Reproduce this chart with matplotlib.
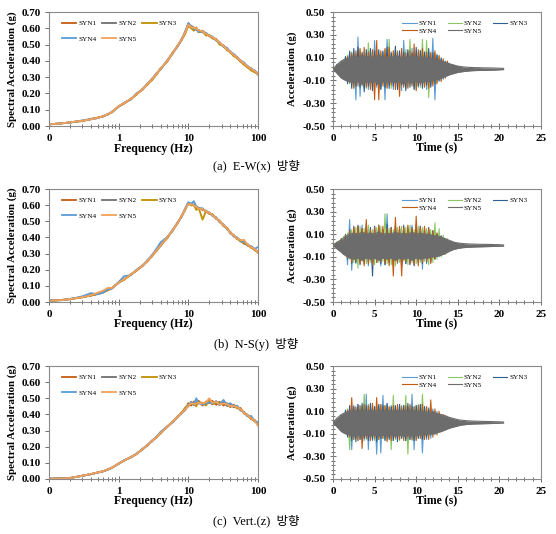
import matplotlib
matplotlib.use('Agg')
import numpy as np
import matplotlib.pyplot as plt
from matplotlib.ticker import LogLocator, NullFormatter, MultipleLocator, FormatStrFormatter, FixedLocator

plt.rcParams['font.family'] = ['Liberation Serif', 'Noto Sans CJK KR']

# ---------------- spectra (Hz -> g) ----------------
freq = [0.1, 0.15, 0.2, 0.3, 0.4, 0.5, 0.6, 0.7, 0.8, 1, 1.2, 1.5, 1.8, 2.2, 2.6, 3, 3.5, 4, 5, 6, 7, 8, 9, 10,
        11, 12, 13, 14, 16, 18, 20, 22, 25, 28, 32, 36, 40, 45, 50, 56, 63, 70, 80, 90, 100]

ew_sa1 = [0.010, 0.017, 0.021, 0.033, 0.041, 0.052, 0.058, 0.074, 0.083, 0.122, 0.138, 0.168, 0.192, 0.228, 0.255, 0.290, 0.316, 0.355, 0.396, 0.455, 0.486, 0.535, 0.570, 0.630,
          0.605, 0.596, 0.600, 0.578, 0.585, 0.560, 0.558, 0.540, 0.535, 0.505, 0.495, 0.465, 0.458, 0.430, 0.425, 0.395, 0.388, 0.360, 0.355, 0.330, 0.325]
ew_sa2 = [0.011, 0.015, 0.023, 0.031, 0.043, 0.049, 0.061, 0.070, 0.087, 0.118, 0.142, 0.163, 0.198, 0.222, 0.262, 0.282, 0.323, 0.347, 0.404, 0.446, 0.494, 0.526, 0.580, 0.620,
          0.615, 0.604, 0.590, 0.590, 0.575, 0.570, 0.550, 0.548, 0.525, 0.515, 0.486, 0.474, 0.450, 0.440, 0.415, 0.405, 0.380, 0.370, 0.345, 0.338, 0.315]
ew_sa3 = [0.009, 0.016, 0.022, 0.030, 0.044, 0.051, 0.059, 0.073, 0.084, 0.121, 0.139, 0.166, 0.194, 0.226, 0.258, 0.280, 0.318, 0.352, 0.398, 0.448, 0.492, 0.528, 0.565, 0.615,
          0.600, 0.585, 0.605, 0.575, 0.582, 0.555, 0.560, 0.538, 0.532, 0.500, 0.492, 0.468, 0.452, 0.428, 0.418, 0.398, 0.375, 0.362, 0.340, 0.330, 0.318]
ew_sa4 = [0.010, 0.017, 0.021, 0.034, 0.042, 0.048, 0.062, 0.071, 0.086, 0.119, 0.143, 0.164, 0.200, 0.224, 0.261, 0.288, 0.325, 0.348, 0.402, 0.452, 0.488, 0.532, 0.578, 0.632,
          0.612, 0.598, 0.592, 0.580, 0.578, 0.572, 0.552, 0.550, 0.528, 0.512, 0.488, 0.480, 0.455, 0.442, 0.422, 0.402, 0.390, 0.368, 0.352, 0.340, 0.322]
ew_sa5 = [0.011, 0.016, 0.023, 0.032, 0.041, 0.050, 0.061, 0.072, 0.085, 0.121, 0.141, 0.166, 0.196, 0.224, 0.259, 0.286, 0.321, 0.351, 0.401, 0.451, 0.491, 0.531, 0.574, 0.622,
          0.608, 0.602, 0.598, 0.588, 0.580, 0.566, 0.554, 0.546, 0.530, 0.512, 0.490, 0.472, 0.454, 0.436, 0.420, 0.402, 0.384, 0.366, 0.350, 0.336, 0.320]

ns_sa1 = [0.008, 0.013, 0.017, 0.031, 0.039, 0.051, 0.059, 0.076, 0.084, 0.122, 0.138, 0.172, 0.193, 0.228, 0.252, 0.288, 0.316, 0.354, 0.396, 0.450, 0.486, 0.534, 0.570, 0.615,
          0.600, 0.604, 0.586, 0.584, 0.570, 0.565, 0.545, 0.545, 0.515, 0.505, 0.470, 0.460, 0.425, 0.415, 0.390, 0.385, 0.360, 0.360, 0.335, 0.328, 0.305]
ns_sa2 = [0.009, 0.011, 0.019, 0.029, 0.041, 0.049, 0.061, 0.074, 0.086, 0.118, 0.142, 0.168, 0.197, 0.222, 0.258, 0.282, 0.324, 0.346, 0.404, 0.442, 0.494, 0.526, 0.580, 0.606,
          0.610, 0.596, 0.594, 0.576, 0.580, 0.556, 0.555, 0.535, 0.525, 0.495, 0.480, 0.450, 0.435, 0.405, 0.400, 0.375, 0.370, 0.350, 0.345, 0.320, 0.312]
ns_sa3 = [0.007, 0.012, 0.018, 0.030, 0.042, 0.050, 0.062, 0.073, 0.087, 0.121, 0.139, 0.171, 0.194, 0.226, 0.256, 0.284, 0.318, 0.352, 0.398, 0.446, 0.488, 0.532, 0.572, 0.612,
          0.598, 0.602, 0.570, 0.585, 0.510, 0.565, 0.548, 0.542, 0.518, 0.502, 0.472, 0.458, 0.428, 0.412, 0.392, 0.378, 0.368, 0.352, 0.338, 0.322, 0.308]
ns_sa4 = [0.008, 0.012, 0.018, 0.035, 0.055, 0.048, 0.058, 0.078, 0.083, 0.124, 0.160, 0.166, 0.200, 0.224, 0.260, 0.290, 0.330, 0.370, 0.402, 0.448, 0.492, 0.528, 0.578, 0.618,
          0.608, 0.625, 0.592, 0.582, 0.578, 0.562, 0.552, 0.538, 0.522, 0.498, 0.478, 0.452, 0.432, 0.408, 0.398, 0.382, 0.372, 0.358, 0.344, 0.330, 0.340]
ns_sa5 = [0.008, 0.012, 0.018, 0.030, 0.041, 0.058, 0.070, 0.088, 0.086, 0.120, 0.141, 0.170, 0.196, 0.225, 0.256, 0.286, 0.320, 0.351, 0.401, 0.446, 0.490, 0.530, 0.576, 0.608,
          0.604, 0.598, 0.590, 0.578, 0.576, 0.560, 0.552, 0.540, 0.520, 0.500, 0.476, 0.455, 0.430, 0.412, 0.395, 0.382, 0.385, 0.358, 0.340, 0.326, 0.308]

vt_sa1 = [0.002, 0.003, 0.005, 0.021, 0.029, 0.041, 0.047, 0.060, 0.068, 0.097, 0.113, 0.137, 0.153, 0.188, 0.207, 0.238, 0.257, 0.288, 0.322, 0.358, 0.382, 0.414, 0.426, 0.470,
          0.455, 0.480, 0.460, 0.485, 0.455, 0.480, 0.470, 0.485, 0.460, 0.478, 0.455, 0.470, 0.445, 0.460, 0.440, 0.440, 0.405, 0.400, 0.370, 0.365, 0.340]
vt_sa2 = [0.002, 0.004, 0.007, 0.019, 0.031, 0.039, 0.049, 0.057, 0.071, 0.093, 0.117, 0.133, 0.157, 0.182, 0.213, 0.232, 0.263, 0.282, 0.328, 0.352, 0.388, 0.406, 0.434, 0.450,
          0.478, 0.458, 0.476, 0.468, 0.472, 0.462, 0.488, 0.462, 0.482, 0.458, 0.476, 0.452, 0.460, 0.444, 0.450, 0.425, 0.415, 0.390, 0.380, 0.355, 0.350]
vt_sa3 = [0.001, 0.003, 0.006, 0.020, 0.030, 0.041, 0.048, 0.059, 0.069, 0.096, 0.114, 0.136, 0.156, 0.184, 0.211, 0.236, 0.259, 0.286, 0.324, 0.356, 0.384, 0.411, 0.442, 0.462,
          0.465, 0.472, 0.450, 0.478, 0.470, 0.455, 0.495, 0.465, 0.470, 0.470, 0.465, 0.465, 0.450, 0.455, 0.438, 0.435, 0.408, 0.398, 0.372, 0.362, 0.338]
vt_sa4 = [0.002, 0.003, 0.006, 0.020, 0.030, 0.040, 0.048, 0.058, 0.070, 0.095, 0.116, 0.134, 0.156, 0.186, 0.209, 0.236, 0.261, 0.292, 0.326, 0.354, 0.386, 0.408, 0.432, 0.458,
          0.475, 0.462, 0.500, 0.470, 0.462, 0.468, 0.475, 0.468, 0.480, 0.462, 0.490, 0.458, 0.470, 0.448, 0.455, 0.428, 0.412, 0.392, 0.390, 0.358, 0.350]
vt_sa5 = [0.002, 0.003, 0.006, 0.020, 0.031, 0.040, 0.049, 0.058, 0.070, 0.095, 0.115, 0.135, 0.155, 0.185, 0.210, 0.235, 0.260, 0.285, 0.325, 0.356, 0.385, 0.410, 0.430, 0.455,
          0.468, 0.466, 0.468, 0.472, 0.468, 0.475, 0.500, 0.472, 0.478, 0.462, 0.468, 0.462, 0.452, 0.452, 0.446, 0.432, 0.410, 0.396, 0.376, 0.360, 0.330]

# ---------------- time histories (g), peaks every 0.25 s ----------------
th_t = [0.0, 0.25, 0.5, 0.75, 1.0, 1.25, 1.5, 1.75, 2.0, 2.25, 2.5, 2.75, 3.0, 3.25, 3.5, 3.75, 4.0, 4.25, 4.5, 4.75,
        5.0, 5.25, 5.5, 5.75, 6.0, 6.25, 6.5, 6.75, 7.0, 7.25, 7.5, 7.75, 8.0, 8.25, 8.5, 8.75, 9.0, 9.25, 9.5, 9.75,
        10.0, 10.25, 10.5, 10.75, 11.0, 11.25, 11.5, 11.75, 12.0, 12.25, 12.5, 12.75, 13.0, 13.25, 13.5, 13.75, 14.0, 14.25, 14.5, 14.75, 15.0]

ew_a1 = [0, -0.01, 0.03, -0.05, 0.07, -0.08, 0.10, -0.12, 0.16, -0.14, 0.13, -0.27, 0.28, -0.24, 0.15, -0.17, 0.14, -0.18, 0.16, -0.15,
         0.25, -0.16, 0.13, -0.17, 0.16, -0.27, 0.26, -0.14, 0.15, -0.18, 0.17, -0.15, 0.14, -0.19, 0.25, -0.16, 0.15, -0.13, 0.18, -0.17,
         0.14, -0.16, 0.16, -0.14, 0.13, -0.18, 0.15, -0.15, 0.27, -0.27, 0.13, -0.11, 0.10, -0.09, 0.07, -0.06, 0.05, -0.04, 0.035, -0.03, 0.02]
ew_a2 = [0, 0.02, -0.03, 0.05, -0.06, 0.08, -0.10, 0.12, -0.13, 0.15, -0.16, 0.14, -0.12, 0.17, -0.15, 0.13, -0.17, 0.23, -0.17, 0.16,
         -0.14, 0.15, -0.18, 0.14, -0.13, 0.17, -0.16, 0.26, -0.17, 0.15, -0.13, 0.16, -0.18, 0.14, -0.15, 0.17, -0.16, 0.26, -0.14, 0.15,
         -0.18, 0.13, -0.16, 0.26, -0.15, 0.25, -0.25, 0.15, -0.13, 0.14, -0.12, 0.11, -0.10, 0.08, -0.07, 0.06, -0.05, 0.04, -0.03, 0.025, -0.02]
ew_a3 = [0, -0.02, 0.04, -0.05, 0.06, -0.09, 0.11, -0.13, 0.15, -0.17, 0.18, -0.15, 0.19, -0.16, 0.14, -0.20, 0.17, -0.15, 0.18, -0.19,
         0.16, -0.14, 0.17, -0.18, 0.15, -0.16, 0.19, -0.17, 0.14, -0.15, 0.20, -0.18, 0.16, -0.14, 0.15, -0.19, 0.17, -0.16, 0.14, -0.18,
         0.19, -0.15, 0.16, -0.17, 0.15, -0.14, 0.18, -0.16, 0.14, -0.13, 0.12, -0.10, 0.09, -0.08, 0.06, -0.05, 0.04, -0.035, 0.03, -0.02, 0.02]
ew_a4 = [0, 0.01, -0.03, 0.04, -0.06, 0.07, -0.09, 0.11, -0.12, 0.14, -0.17, 0.16, -0.15, 0.18, -0.14, 0.19, -0.16, 0.15, -0.18, 0.17,
         -0.27, 0.25, -0.27, 0.16, -0.15, 0.18, -0.17, 0.19, -0.14, 0.16, -0.18, 0.15, -0.24, 0.18, -0.16, 0.14, -0.17, 0.16, -0.15, 0.22,
         -0.19, 0.17, -0.14, 0.18, -0.16, 0.15, -0.17, 0.14, -0.15, 0.16, -0.13, 0.12, -0.11, 0.09, -0.08, 0.07, -0.05, 0.04, -0.035, 0.03, -0.02]

ns_a1 = [0, -0.01, 0.02, -0.04, 0.05, -0.07, 0.09, -0.17, 0.23, -0.22, 0.15, -0.16, 0.17, -0.14, 0.18, -0.15, 0.16, -0.18, 0.14, -0.16,
         0.17, -0.15, 0.16, -0.18, 0.14, -0.17, 0.28, -0.15, 0.16, -0.14, 0.18, -0.16, 0.15, -0.17, 0.14, -0.16, 0.17, -0.15, 0.18, -0.14,
         0.16, -0.15, 0.17, -0.21, 0.15, -0.16, 0.14, -0.15, 0.13, -0.12, 0.11, -0.10, 0.09, -0.07, 0.06, -0.05, 0.04, -0.03, 0.025, -0.02, 0.02]
ns_a2 = [0, 0.02, -0.03, 0.04, -0.06, 0.08, -0.09, 0.11, -0.12, 0.14, -0.15, 0.16, -0.20, 0.17, -0.14, 0.15, -0.16, 0.18, -0.15, 0.14,
         -0.17, 0.16, -0.15, 0.17, -0.14, 0.28, -0.16, 0.15, -0.17, 0.14, -0.18, 0.16, -0.15, 0.17, -0.14, 0.16, -0.17, 0.18, -0.15, 0.14,
         -0.16, 0.17, -0.15, 0.16, -0.14, 0.15, -0.17, 0.14, -0.15, 0.20, -0.12, 0.15, -0.10, 0.09, -0.08, 0.06, -0.05, 0.04, -0.03, 0.025, -0.02]
ns_a3 = [0, -0.01, 0.03, -0.04, 0.06, -0.08, 0.10, -0.12, 0.14, -0.16, 0.17, -0.15, 0.18, -0.17, 0.15, -0.16, 0.19, -0.14, 0.16, -0.27,
         0.17, -0.15, 0.18, -0.16, 0.14, -0.17, 0.19, -0.15, 0.16, -0.18, 0.17, -0.14, 0.15, -0.19, 0.18, -0.16, 0.14, -0.17, 0.16, -0.18,
         0.19, -0.15, 0.17, -0.16, 0.14, -0.15, 0.16, -0.14, 0.13, -0.12, 0.10, -0.09, 0.08, -0.06, 0.05, -0.04, 0.035, -0.03, 0.02, -0.02, 0.015]
ns_a4 = [0, -0.01, 0.02, -0.04, 0.06, -0.07, 0.09, -0.11, 0.13, -0.15, 0.16, -0.14, 0.17, -0.16, 0.15, -0.18, 0.23, -0.16, 0.14, -0.17,
         0.16, -0.15, 0.18, -0.14, 0.17, -0.16, 0.15, -0.18, 0.16, -0.27, 0.25, -0.15, 0.17, -0.27, 0.16, -0.14, 0.18, -0.16, 0.15, -0.17,
         0.26, -0.18, 0.16, -0.15, 0.17, -0.14, 0.15, -0.16, 0.13, -0.12, 0.11, -0.09, 0.08, -0.07, 0.05, -0.04, 0.035, -0.03, 0.02, -0.02, 0.015]

vt_a1 = [0, -0.01, 0.02, -0.03, 0.05, -0.07, 0.09, -0.11, 0.13, -0.24, 0.15, -0.14, 0.16, -0.15, 0.14, -0.16, 0.25, -0.24, 0.15, -0.16,
         0.14, -0.28, 0.15, -0.27, 0.24, -0.15, 0.16, -0.14, 0.15, -0.16, 0.14, -0.15, 0.16, -0.14, 0.15, -0.16, 0.14, -0.15, 0.25, -0.24,
         0.15, -0.14, 0.16, -0.27, 0.14, -0.15, 0.13, -0.14, 0.12, -0.11, 0.10, -0.08, 0.07, -0.06, 0.05, -0.04, 0.03, -0.025, 0.02, -0.02, 0.015]
vt_a2 = [0, 0.01, -0.03, 0.04, -0.06, 0.08, -0.10, 0.12, -0.24, 0.14, -0.15, 0.13, -0.16, 0.15, -0.14, 0.25, -0.15, 0.16, -0.14, 0.15,
         -0.16, 0.14, -0.15, 0.16, -0.14, 0.15, -0.16, 0.14, -0.24, 0.24, -0.15, 0.14, -0.16, 0.15, -0.14, 0.24, -0.28, 0.15, -0.16, 0.14,
         -0.15, 0.16, -0.14, 0.25, -0.15, 0.14, -0.13, 0.12, -0.11, 0.10, -0.09, 0.08, -0.07, 0.06, -0.05, 0.04, -0.03, 0.025, -0.02, 0.02, -0.015]
vt_a3 = [0, -0.02, 0.03, -0.05, 0.07, -0.09, 0.11, -0.13, 0.15, -0.16, 0.14, -0.17, 0.16, -0.15, 0.17, -0.14, 0.15, -0.16, 0.17, -0.15,
         0.14, -0.17, 0.16, -0.14, 0.15, -0.16, 0.17, -0.15, 0.14, -0.16, 0.15, -0.17, 0.16, -0.14, 0.15, -0.16, 0.17, -0.15, 0.14, -0.16,
         0.15, -0.14, 0.16, -0.15, 0.14, -0.13, 0.12, -0.11, 0.10, -0.09, 0.08, -0.07, 0.06, -0.05, 0.04, -0.035, 0.03, -0.02, 0.02, -0.015, 0.01]
vt_a4 = [0, 0.01, -0.02, 0.04, -0.05, 0.07, -0.09, 0.11, -0.13, 0.22, -0.15, 0.14, -0.16, 0.15, -0.23, 0.16, -0.14, 0.15, -0.16, 0.17,
         -0.14, 0.22, -0.15, 0.16, -0.14, 0.15, -0.17, 0.14, -0.16, 0.15, -0.14, 0.16, -0.15, 0.14, -0.16, 0.15, -0.14, 0.16, -0.15, 0.14,
         -0.16, 0.15, -0.14, 0.16, -0.15, 0.14, -0.15, 0.20, -0.13, 0.12, -0.11, 0.10, -0.08, 0.07, -0.06, 0.05, -0.04, 0.03, -0.025, 0.02, -0.015]

# SYN5 is drawn last and reads as a solid band: kept as its upper / lower envelope every 0.5 s
env_t = [0.0, 0.5, 1.0, 1.5, 2.0, 2.5, 3.0, 3.5, 4.0, 4.5, 5.0, 5.5, 6.0, 6.5, 7.0, 7.5, 8.0, 8.5, 9.0, 9.5, 10.0,
         10.5, 11.0, 11.5, 12.0, 12.5, 13.0, 13.5, 14.0, 14.5, 15.0, 15.5, 16.0, 16.5, 17.0, 17.5, 18.0, 18.5, 19.0, 19.5, 20.0, 20.5]
ew_up5 = [0.00, 0.04, 0.07, 0.09, 0.10, 0.12, 0.10, 0.12, 0.10, 0.11, 0.10, 0.12, 0.10, 0.11, 0.10, 0.12, 0.10, 0.11, 0.10, 0.12, 0.10,
          0.11, 0.10, 0.10, 0.09, 0.08, 0.07, 0.06, 0.045, 0.035, 0.025, 0.02, 0.016, 0.014, 0.012, 0.012, 0.010, 0.010, 0.009, 0.008, 0.007, 0.005]
ew_lo5 = [0.00, -0.04, -0.08, -0.10, -0.11, -0.12, -0.11, -0.13, -0.11, -0.12, -0.11, -0.13, -0.11, -0.12, -0.11, -0.12, -0.11, -0.13, -0.11, -0.12, -0.11,
          -0.12, -0.11, -0.11, -0.10, -0.09, -0.08, -0.065, -0.05, -0.04, -0.03, -0.024, -0.02, -0.016, -0.014, -0.013, -0.012, -0.011, -0.010, -0.009, -0.007, -0.005]
ns_up5 = [0.00, 0.03, 0.05, 0.08, 0.10, 0.11, 0.10, 0.12, 0.10, 0.11, 0.10, 0.12, 0.10, 0.11, 0.10, 0.12, 0.10, 0.11, 0.10, 0.12, 0.10,
          0.11, 0.10, 0.10, 0.09, 0.085, 0.075, 0.06, 0.045, 0.03, 0.022, 0.018, 0.015, 0.013, 0.012, 0.011, 0.010, 0.010, 0.009, 0.008, 0.007, 0.005]
ns_lo5 = [0.00, -0.03, -0.06, -0.09, -0.11, -0.12, -0.11, -0.13, -0.11, -0.12, -0.11, -0.13, -0.11, -0.12, -0.11, -0.13, -0.11, -0.12, -0.11, -0.13, -0.11,
          -0.12, -0.11, -0.11, -0.10, -0.095, -0.085, -0.07, -0.05, -0.035, -0.026, -0.02, -0.017, -0.015, -0.013, -0.012, -0.011, -0.010, -0.009, -0.008, -0.007, -0.005]
vt_up5 = [0.00, 0.04, 0.07, 0.09, 0.10, 0.11, 0.10, 0.11, 0.10, 0.11, 0.10, 0.11, 0.10, 0.11, 0.10, 0.11, 0.10, 0.11, 0.10, 0.11, 0.10,
          0.10, 0.10, 0.09, 0.09, 0.08, 0.07, 0.06, 0.045, 0.035, 0.025, 0.02, 0.016, 0.014, 0.012, 0.011, 0.010, 0.009, 0.008, 0.007, 0.006, 0.004]
vt_lo5 = [0.00, -0.04, -0.08, -0.10, -0.11, -0.12, -0.11, -0.12, -0.11, -0.12, -0.11, -0.12, -0.11, -0.12, -0.11, -0.12, -0.11, -0.12, -0.11, -0.12, -0.11,
          -0.11, -0.11, -0.10, -0.10, -0.09, -0.08, -0.065, -0.05, -0.04, -0.03, -0.022, -0.018, -0.015, -0.013, -0.012, -0.011, -0.010, -0.009, -0.008, -0.006, -0.004]

names = ['SYN1', 'SYN2', 'SYN3', 'SYN4', 'SYN5']
sa_colors = ['#C55A11', '#6F6F6F', '#BF9000', '#5B9BD5', '#F4A05A']
th_colors = ['#5B9BD5', '#8CC862', '#2E5F8E', '#C55A11', '#6C6C6C']
captions = ['(a)  E-W(x)  방향', '(b)  N-S(y)  방향', '(c)  Vert.(z)  방향']

W, H = 556, 534
rows = [(12, 126, 166), (189, 302, 344), (366, 479, 521)]
spine_c = '#8a8a8a'
legend_order = [0, 3, 1, 4, 2]   # legend fills by column; this gives SYN1 SYN2 SYN3 / SYN4 SYN5


def box(x0, x1, y0, y1):
    return [x0 / W, 1 - y1 / H, (x1 - x0) / W, (y1 - y0) / H]


def style(ax):
    for s in ax.spines.values():
        s.set_color(spine_c)
        s.set_linewidth(0.8)
    ax.tick_params(which='both', colors='#555555', width=0.6, labelcolor='black')
    for lb in ax.get_xticklabels() + ax.get_yticklabels():
        lb.set_fontsize(8)
        lb.set_fontweight('bold')


def ordered_legend(ax, **kw):
    h, l = ax.get_legend_handles_labels()
    ax.legend([h[i] for i in legend_order], [l[i] for i in legend_order], ncol=3, frameon=False,
              prop={'size': 5.2}, handlelength=2.0, handletextpad=0.25, **kw)


def draw_spectrum(ax, series):
    for name, vals, c in zip(names, series, sa_colors):
        ax.plot(freq, vals, color=c, lw=1.3, label=name)
    ax.set_xscale('log')
    ax.set_xlim(0.1, 100)
    ax.set_ylim(0, 0.7)
    ax.set_xticks([0.1, 1, 10, 100], ['0', '1', '10', '100'])
    ax.xaxis.set_minor_locator(LogLocator(base=10, subs=range(2, 10)))
    ax.xaxis.set_minor_formatter(NullFormatter())
    ax.set_yticks([0, 0.1, 0.2, 0.3, 0.4, 0.5, 0.6, 0.7])
    ax.yaxis.set_major_formatter(FormatStrFormatter('%.2f'))
    ax.tick_params(axis='x', which='major', direction='inout', length=5, pad=3)
    ax.tick_params(axis='x', which='minor', direction='inout', length=3)
    ax.tick_params(axis='y', which='major', direction='out', length=3, pad=3)
    style(ax)
    ax.set_xlabel('Frequency (Hz)', fontsize=8.5, fontweight='bold')
    ax.set_ylabel('Spectral Acceleration (g)', fontsize=7.8, fontweight='bold')
    ax.xaxis.set_label_coords(0.5, -0.145)
    ax.yaxis.set_label_coords(-0.155, 0.5)
    ordered_legend(ax, loc='upper left', bbox_to_anchor=(0.03, 0.985), columnspacing=0.8, labelspacing=1.3)


def draw_history(ax, accs, up5, lo5):
    for name, a, c in zip(names[:4], accs, th_colors[:4]):
        ax.plot(th_t[:len(a)], a, color=c, lw=0.8, label=name)
    ax.fill_between(env_t, lo5, up5, color=th_colors[4], lw=0, zorder=3)
    ax.plot(env_t, up5, color=th_colors[4], lw=0.8, zorder=3, label=names[4])
    ax.plot(env_t, lo5, color=th_colors[4], lw=0.8, zorder=3)
    ax.set_xlim(0, 25)
    ax.set_ylim(-0.5, 0.5)
    ax.set_xticks([0, 5, 10, 15, 20, 25])
    ax.xaxis.set_minor_locator(MultipleLocator(1))
    ax.set_yticks([-0.5, -0.3, -0.1, 0.1, 0.3, 0.5])
    ax.yaxis.set_minor_locator(FixedLocator(np.linspace(-0.5, 0.5, 26)))
    ax.yaxis.set_major_formatter(FormatStrFormatter('%.2f'))
    ax.tick_params(axis='both', which='major', direction='inout', length=5, pad=3)
    ax.tick_params(axis='both', which='minor', direction='inout', length=3)
    style(ax)
    ax.set_xlabel('Time (s)', fontsize=8.5, fontweight='bold')
    ax.set_ylabel('Acceleration (g)', fontsize=7.8, fontweight='bold')
    ax.xaxis.set_label_coords(0.5, -0.135)
    ax.yaxis.set_label_coords(-0.175, 0.5)
    ordered_legend(ax, loc='upper right', bbox_to_anchor=(0.965, 0.985), columnspacing=1.5, labelspacing=0.2)


fig = plt.figure(figsize=(W / 100, H / 100), dpi=100)

spectra = [[ew_sa1, ew_sa2, ew_sa3, ew_sa4, ew_sa5],
           [ns_sa1, ns_sa2, ns_sa3, ns_sa4, ns_sa5],
           [vt_sa1, vt_sa2, vt_sa3, vt_sa4, vt_sa5]]
hist_a = [[ew_a1, ew_a2, ew_a3, ew_a4], [ns_a1, ns_a2, ns_a3, ns_a4], [vt_a1, vt_a2, vt_a3, vt_a4]]
ups = [ew_up5, ns_up5, vt_up5]
los = [ew_lo5, ns_lo5, vt_lo5]

for i, (top, bottom, cap_y) in enumerate(rows):
    ax1 = fig.add_axes(box(49, 258, top, bottom))
    draw_spectrum(ax1, spectra[i])
    ax2 = fig.add_axes(box(333, 541, top, bottom))
    draw_history(ax2, hist_a[i], ups[i], los[i])
    fig.text(256 / W, 1 - cap_y / H, captions[i], ha='center', va='center', fontsize=9)

fig.savefig('out.png', dpi=100)
